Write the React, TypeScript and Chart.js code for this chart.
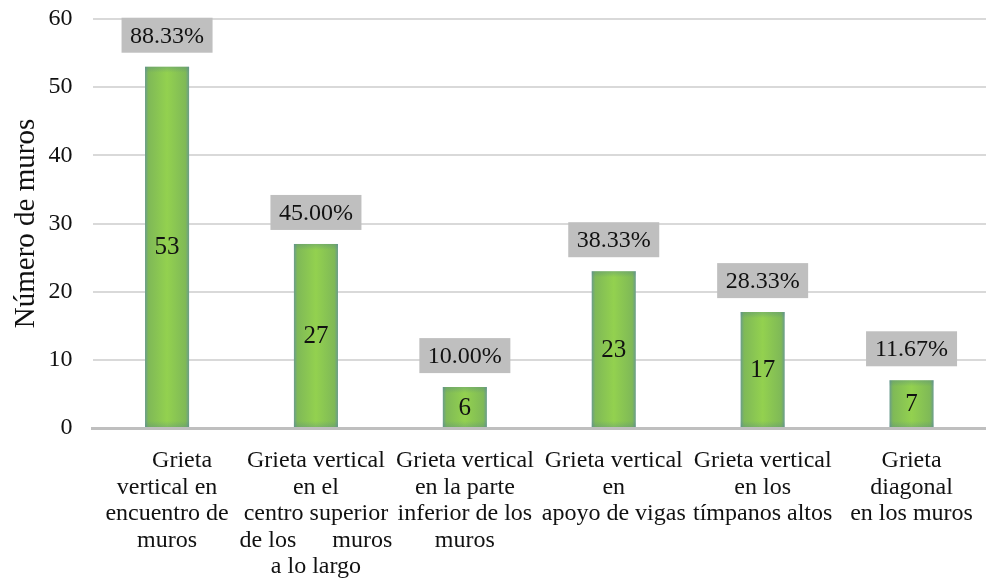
import React, { useEffect, useRef } from "react";
import { Chart, registerables } from "chart.js";

Chart.register(...registerables);

const categories: string[][] = [
  ["     Grieta", "vertical en", "encuentro de", "muros"],
  ["Grieta vertical", "en el", "centro superior", "de los      muros", "a lo largo"],
  ["Grieta vertical", "en la parte", "inferior de los", "muros"],
  ["Grieta vertical", "en", "apoyo de vigas"],
  ["Grieta vertical", "en los", "tímpanos altos"],
  ["Grieta", "diagonal", "en los muros"],
];
const counts: number[] = [53, 27, 6, 23, 17, 7];
const percentLabels: string[] = ["88.33%", "45.00%", "10.00%", "38.33%", "28.33%", "11.67%"];
const yTicks: number[] = [0, 10, 20, 30, 40, 50, 60];

const FONT = "'Liberation Serif', 'Times New Roman', serif";
const BAR_FRACTION = 0.296;

const labelPlugin = {
  id: "barLabels",
  afterDatasetsDraw(chart: any) {
    const ctx = chart.ctx;
    const meta = chart.getDatasetMeta(0);
    ctx.save();
    meta.data.forEach((el: any, i: number) => {
      const x = el.x;
      const top = el.y;
      const base = el.base;
      const w = el.width;
      const h = base - top;
      const g = ctx.createLinearGradient(0, top, 0, base);
      const f = Math.min(0.5, 6 / Math.max(h, 1));
      g.addColorStop(0, "rgba(80,130,140,0.35)");
      g.addColorStop(f, "rgba(80,130,140,0)");
      g.addColorStop(1 - f, "rgba(80,130,140,0)");
      g.addColorStop(1, "rgba(80,130,140,0.3)");
      ctx.fillStyle = g;
      ctx.fillRect(x - w / 2, top, w, h);
      ctx.fillStyle = "#111";
      ctx.font = `25px ${FONT}`;
      ctx.textAlign = "center";
      ctx.textBaseline = "middle";
      ctx.fillText(String(counts[i]), x, (top + base) / 2 + 1);
      const bw = 91;
      const bh = 35;
      const bBottom = top - 14;
      ctx.fillStyle = "#bfbfbf";
      ctx.fillRect(x - bw / 2, bBottom - bh, bw, bh);
      ctx.fillStyle = "#111";
      ctx.font = `24px ${FONT}`;
      ctx.fillText(percentLabels[i], x, bBottom - bh / 2 + 1);
    });
    ctx.restore();
  },
};

export default function App() {
  const canvasRef = useRef<HTMLCanvasElement | null>(null);

  useEffect(() => {
    document.body.style.margin = "0";
    const canvas = canvasRef.current;
    if (!canvas) return;
    const chart = new Chart(canvas, {
      type: "bar",
      data: {
        labels: categories,
        datasets: [
          {
            data: counts,
            backgroundColor: (c: any) => {
              const ch = c.chart;
              const xs = ch.scales?.x;
              if (!xs || c.dataIndex === undefined) return "#92d050";
              const cx = xs.getPixelForValue(c.dataIndex);
              const half = (xs.width / categories.length) * BAR_FRACTION / 2;
              if (!isFinite(cx) || !isFinite(half)) return "#92d050";
              const g = ch.ctx.createLinearGradient(cx - half, 0, cx + half, 0);
              g.addColorStop(0, "#6a9c8c");
              g.addColorStop(0.08, "#7fb957");
              g.addColorStop(0.5, "#93d14f");
              g.addColorStop(0.92, "#7fb957");
              g.addColorStop(1, "#6a9c8c");
              return g;
            },
            borderWidth: 0,
            categoryPercentage: 1,
            barPercentage: BAR_FRACTION,
          },
        ],
      },
      options: {
        animation: false,
        responsive: false,
        maintainAspectRatio: false,
        layout: { padding: { top: 19, right: 0, left: 0, bottom: 0 } },
        plugins: {
          legend: { display: false },
          tooltip: { enabled: false },
        },
        scales: {
          x: {
            grid: { display: false, drawTicks: false },
            border: { display: true, color: "#bfbfbf", width: 3 },
            ticks: {
              color: "#111",
              font: { family: FONT, size: 24, lineHeight: 1.1 },
              padding: 20,
              maxRotation: 0,
              autoSkip: false,
            },
            afterFit: (s: any) => {
              s.height = 152;
              s.paddingLeft = 0;
              s.paddingRight = 0;
              s.paddingTop = 0;
              s.paddingBottom = 0;
            },
          },
          y: {
            min: 0,
            max: 60,
            afterBuildTicks: (s: any) => {
              s.ticks = yTicks.map((v) => ({ value: v }));
            },
            grid: { color: "#d9d9d9", lineWidth: 2, drawTicks: false },
            border: { display: false },
            ticks: {
              color: "#111",
              font: { family: FONT, size: 24 },
              padding: 20,
            },
            title: {
              display: true,
              text: "Número de muros",
              color: "#111",
              font: { family: FONT, size: 29 },
              padding: { top: 9, bottom: 0 },
            },
            afterFit: (s: any) => {
              s.width = 92.6;
              s.paddingTop = 0;
              s.paddingBottom = 0;
              s.paddingLeft = 0;
              s.paddingRight = 0;
            },
          },
        },
      },
      plugins: [labelPlugin],
    });
    return () => chart.destroy();
  }, []);

  return (
    <div style={{ width: 986, height: 580 }}>
      <canvas ref={canvasRef} width={986} height={580} style={{ display: "block" }} />
    </div>
  );
}
